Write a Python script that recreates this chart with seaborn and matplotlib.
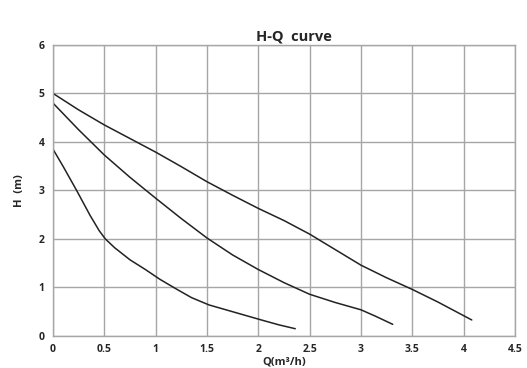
import matplotlib
matplotlib.use("Agg")
import matplotlib.pyplot as plt
import seaborn as sns
import pandas as pd

# Data
q_high = [0.0, 0.25, 0.5, 0.75, 1.0, 1.25, 1.5, 1.75, 2.0, 2.25, 2.5, 2.75, 3.0, 3.25, 3.5, 3.75, 4.08]
h_high = [5.0, 4.66, 4.35, 4.07, 3.79, 3.49, 3.18, 2.90, 2.63, 2.38, 2.10, 1.78, 1.46, 1.20, 0.96, 0.70, 0.33]

q_mid = [0.0, 0.25, 0.5, 0.75, 1.0, 1.25, 1.5, 1.75, 2.0, 2.25, 2.5, 2.75, 3.0, 3.15, 3.31]
h_mid = [4.8, 4.25, 3.73, 3.27, 2.84, 2.42, 2.02, 1.67, 1.37, 1.10, 0.86, 0.69, 0.54, 0.40, 0.24]

q_low = [0.0, 0.1, 0.23, 0.36, 0.45, 0.51, 0.6, 0.75, 0.9, 1.04, 1.2, 1.35, 1.52, 1.75, 2.03, 2.2, 2.36]
h_low = [3.85, 3.49, 3.0, 2.49, 2.17, 2.0, 1.82, 1.57, 1.37, 1.17, 0.97, 0.79, 0.64, 0.50, 0.33, 0.23, 0.15]

x_ticks = [0, 0.5, 1, 1.5, 2, 2.5, 3, 3.5, 4, 4.5]
x_tick_labels = ["0", "0.5", "1", "1.5", "2", "2.5", "3", "3.5", "4", "4.5"]
y_ticks = [0, 1, 2, 3, 4, 5, 6]

sns.set_theme(style="white")
plt.rcParams['font.family'] = ['Open Sans', 'DejaVu Sans']

frames = []
for name, q, h in [("high", q_high, h_high), ("mid", q_mid, h_mid), ("low", q_low, h_low)]:
    frames.append(pd.DataFrame({"Q": q, "H": h, "curve": name}))
df = pd.concat(frames, ignore_index=True)

fig = plt.figure(figsize=(5.27, 3.68), dpi=100)
ax = fig.add_axes([0.1006, 0.087, 0.8764, 0.791])

sns.lineplot(data=df, x="Q", y="H", units="curve", estimator=None, sort=False,
             color="#222222", linewidth=1.1, ax=ax, legend=False)

ax.set_xlim(0, 4.5)
ax.set_ylim(0, 6)
ax.set_xticks(x_ticks)
ax.set_xticklabels(x_tick_labels)
ax.set_yticks(y_ticks)
ax.grid(True, color="#a6a6a6", linewidth=1.0)
ax.set_axisbelow(True)
for s in ax.spines.values():
    s.set_color("#a6a6a6")
    s.set_linewidth(1.0)
ax.tick_params(axis="both", length=4, width=1, color="#a6a6a6", labelsize=7.5, pad=2)
for lab in ax.get_xticklabels() + ax.get_yticklabels():
    lab.set_fontweight("bold")

ax.set_xlabel("Q(m³/h)", fontsize=8, fontweight="bold", labelpad=1)
ax.set_ylabel("H  (m)", fontsize=8, fontweight="bold", labelpad=10)
fig.text(0.558, 0.902, "H-Q  curve", ha="center", va="center", fontsize=10.5, fontweight="bold")

fig.savefig("out.png", dpi=100, facecolor="white")
